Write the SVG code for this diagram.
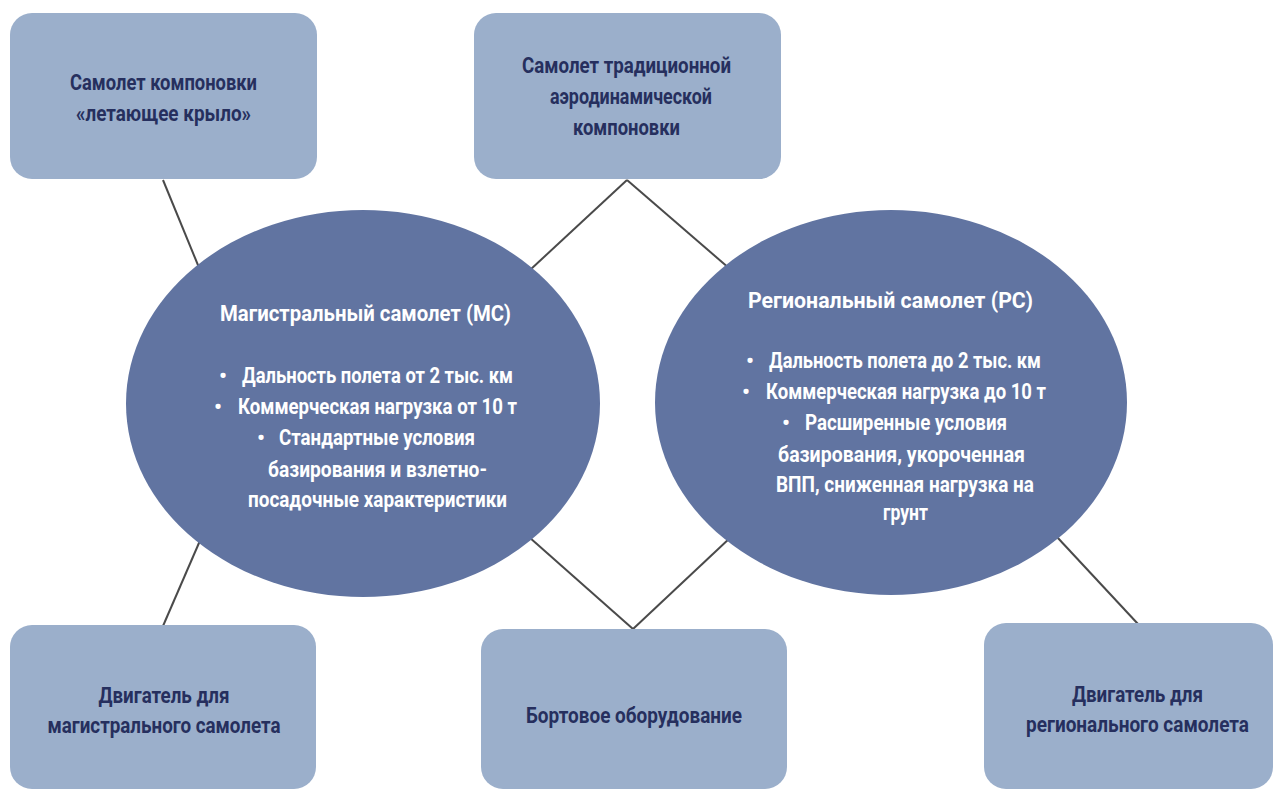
<svg xmlns="http://www.w3.org/2000/svg" width="1276" height="790" viewBox="0 0 1276 790">
<style>
.box{fill:#9BAFCB;}
.ell{fill:#6174A1;}
.bt{font-family:Roboto,"Liberation Sans",sans-serif;font-weight:700;font-size:22px;fill:#262F5E;text-anchor:middle;}
.wt{font-family:Roboto,"Liberation Sans",sans-serif;font-weight:700;font-size:22px;fill:#FFFFFF;}
.tt{text-anchor:middle;}
.con{stroke:#4A4A4A;stroke-width:2;fill:none;}
</style>
<rect width="1276" height="790" fill="#FFFFFF"/>
<g id="connectors">
<line class="con" x1="163" y1="180" x2="200" y2="270"/>
<line class="con" x1="627" y1="180" x2="530" y2="270"/>
<line class="con" x1="627" y1="180" x2="730" y2="269"/>
<line class="con" x1="202" y1="536" x2="163" y2="626"/>
<line class="con" x1="529" y1="537" x2="633" y2="629"/>
<line class="con" x1="731" y1="537" x2="633" y2="629"/>
<line class="con" x1="1057" y1="537" x2="1138" y2="624"/>
</g>
<g id="n-flying-wing">
<rect class="box" x="10" y="13" width="307" height="166" rx="22"/>
<text class="bt" x="163.5" y="90" textLength="187" lengthAdjust="spacingAndGlyphs">Самолет компоновки</text>
<text class="bt" x="163.5" y="121" textLength="175" lengthAdjust="spacingAndGlyphs">«летающее крыло»</text>
</g>
<g id="n-traditional">
<rect class="box" x="474" y="13" width="307" height="166" rx="22"/>
<text class="bt" x="626.5" y="73" textLength="209" lengthAdjust="spacingAndGlyphs">Самолет традиционной</text>
<text class="bt" x="631" y="104" textLength="162" lengthAdjust="spacingAndGlyphs">аэродинамической</text>
<text class="bt" x="626.5" y="135" textLength="107" lengthAdjust="spacingAndGlyphs">компоновки</text>
</g>
<g id="n-mainline">
<ellipse class="ell" cx="363" cy="403.5" rx="237" ry="193.5"/>
<text class="wt tt" x="365.5" y="321" textLength="291" lengthAdjust="spacingAndGlyphs">Магистральный самолет (МС)</text>
<text class="wt" x="219" y="383">•</text>
<text class="wt" x="242" y="383" textLength="271" lengthAdjust="spacingAndGlyphs">Дальность полета от 2 тыс. км</text>
<text class="wt" x="214" y="414">•</text>
<text class="wt" x="238" y="414" textLength="279" lengthAdjust="spacingAndGlyphs">Коммерческая нагрузка от 10 т</text>
<text class="wt" x="257" y="445">•</text>
<text class="wt" x="279" y="445" textLength="196" lengthAdjust="spacingAndGlyphs">Стандартные условия</text>
<text class="wt" x="268" y="477" textLength="219" lengthAdjust="spacingAndGlyphs">базирования и взлетно-</text>
<text class="wt" x="248" y="507" textLength="259" lengthAdjust="spacingAndGlyphs">посадочные характеристики</text>
</g>
<g id="n-regional">
<ellipse class="ell" cx="891" cy="402.5" rx="236" ry="192.5"/>
<text class="wt tt" x="890.5" y="308" textLength="285" lengthAdjust="spacingAndGlyphs">Региональный самолет (РС)</text>
<text class="wt" x="746" y="368">•</text>
<text class="wt" x="769" y="368" textLength="272" lengthAdjust="spacingAndGlyphs">Дальность полета до 2 тыс. км</text>
<text class="wt" x="742" y="399">•</text>
<text class="wt" x="766" y="399" textLength="280" lengthAdjust="spacingAndGlyphs">Коммерческая нагрузка до 10 т</text>
<text class="wt" x="782" y="430">•</text>
<text class="wt" x="805" y="430" textLength="202" lengthAdjust="spacingAndGlyphs">Расширенные условия</text>
<text class="wt" x="778" y="462" textLength="247" lengthAdjust="spacingAndGlyphs">базирования, укороченная</text>
<text class="wt" x="776" y="492" textLength="258" lengthAdjust="spacingAndGlyphs">ВПП, сниженная нагрузка на</text>
<text class="wt" x="883" y="520" textLength="45" lengthAdjust="spacingAndGlyphs">грунт</text>
</g>
<g id="n-engine-mainline">
<rect class="box" x="10" y="625" width="306" height="164" rx="22"/>
<text class="bt" x="164" y="703" textLength="131" lengthAdjust="spacingAndGlyphs">Двигатель для</text>
<text class="bt" x="164" y="733" textLength="233" lengthAdjust="spacingAndGlyphs">магистрального самолета</text>
</g>
<g id="n-avionics">
<rect class="box" x="481" y="629" width="306" height="160" rx="22"/>
<text class="bt" x="634" y="723" textLength="216" lengthAdjust="spacingAndGlyphs">Бортовое оборудование</text>
</g>
<g id="n-engine-regional">
<rect class="box" x="984" y="623" width="289" height="166" rx="22"/>
<text class="bt" x="1137.5" y="702" textLength="131" lengthAdjust="spacingAndGlyphs">Двигатель для</text>
<text class="bt" x="1137.5" y="732" textLength="223" lengthAdjust="spacingAndGlyphs">регионального самолета</text>
</g>
</svg>
